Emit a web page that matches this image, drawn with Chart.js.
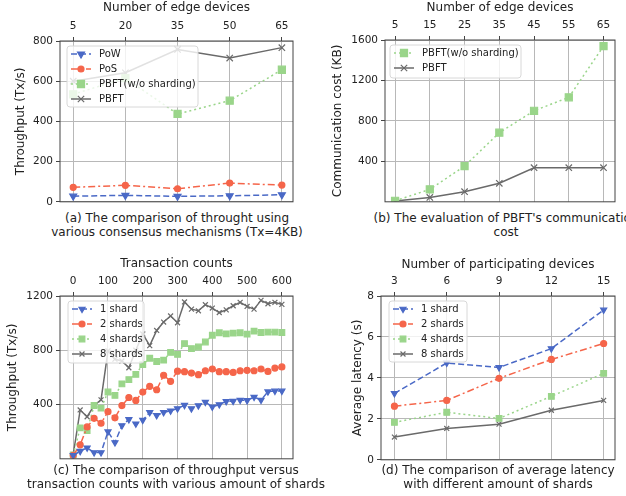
<!DOCTYPE html>
<html>
<head>
<meta charset="utf-8">
<script src="https://cdn.jsdelivr.net/npm/chart.js@4.4.1/dist/chart.umd.min.js"></script>
<style>
  html, body { margin: 0; padding: 0; background: #fff; overflow: hidden; }
  #page { position: relative; width: 626px; height: 496px; font-family: "DejaVu Sans", sans-serif; }
  .panel { position: absolute; }
  .caption { position: absolute; width: 420px; text-align: center; font-size: 12px; line-height: 14px; color: #222; white-space: nowrap; }
</style>
</head>
<body>
<div id="page">
  <div class="panel" style="left:0;top:0;width:300px;height:208px"><canvas id="chartA"></canvas></div>
  <div class="panel" style="left:320px;top:0;width:302px;height:208px"><canvas id="chartB"></canvas></div>
  <div class="panel" style="left:0;top:248px;width:300px;height:216px"><canvas id="chartC"></canvas></div>
  <div class="panel" style="left:320px;top:248px;width:302px;height:217px"><canvas id="chartD"></canvas></div>
  <div class="caption" style="left:-33px;top:211px">(a) The comparison of throught using<br>various consensus mechanisms (Tx=4KB)</div>
  <div class="caption" style="left:296px;top:211px">(b) The evaluation of PBFT's communication<br>cost</div>
  <div class="caption" style="left:-34px;top:463px">(c) The comparison of throughput versus<br>transaction counts with various amount of shards</div>
  <div class="caption" style="left:288px;top:463px">(d) The comparison of average latency<br>with different amount of shards</div>
</div>
<script>
// ---- data ----
// (a) throughput vs edge devices
const devicesA = [5, 20, 35, 50, 65];
const powA = [28, 32, 27, 30, 35];
const posA = [72, 82, 65, 93, 83];
const pbftNoShardA = [535, 615, 437, 503, 657];
const pbftA = [600, 642, 758, 715, 767];
const yTicksA = [0, 200, 400, 600, 800];

// (b) communication cost
const devicesB = [5, 15, 25, 35, 45, 55, 65];
const pbftNoShardB = [10, 123, 353, 683, 900, 1033, 1540];
const pbftB = [7, 43, 100, 183, 337, 337, 337];
const yTicksB = [400, 800, 1200, 1600];

// (c) throughput vs transaction counts
const txCounts = [0, 20, 40, 60, 80, 100, 120, 140, 160, 180, 200, 220, 240, 260, 280, 300,
  320, 340, 360, 380, 400, 420, 440, 460, 480, 500, 520, 540, 560, 580, 600];
const shard1C = [26, 56, 81, 46, 46, 200, 120, 245, 290, 258, 285, 342, 320, 342, 354, 370,
  395, 370, 392, 418, 383, 400, 423, 425, 433, 430, 455, 433, 495, 500, 500];
const shard2C = [26, 103, 235, 298, 262, 347, 302, 392, 452, 430, 492, 534, 509, 616, 571, 646,
  642, 632, 620, 649, 662, 642, 642, 637, 649, 652, 649, 662, 644, 669, 677];
const shard4C = [28, 228, 208, 393, 373, 492, 467, 552, 584, 622, 695, 741, 717, 727, 784, 770,
  849, 812, 824, 861, 911, 929, 921, 926, 929, 919, 941, 931, 934, 934, 931];
const shard8C = [30, 360, 310, 393, 435, 796, 734, 721, 671, 800, 920, 834, 946, 1008, 1053, 1003,
  1156, 1103, 1091, 1136, 1111, 1078, 1098, 1128, 1153, 1123, 1103, 1168, 1143, 1153, 1138];
const xTicksC = [0, 100, 200, 300, 400, 500, 600];
const yTicksC = [400, 800, 1200];

// (d) latency
const devicesD = [3, 6, 9, 12, 15];
const shard1D = [3.24, 4.73, 4.51, 5.43, 7.32];
const shard2D = [2.62, 2.9, 3.98, 4.9, 5.68];
const shard4D = [1.83, 2.32, 2.02, 3.1, 4.22];
const shard8D = [1.11, 1.53, 1.74, 2.42, 2.9];
const yTicksD = [0, 2, 4, 6, 8];

// ---- styles ----
const BLUE = "#4a69c6";
const RED = "#f5654a";
const GREEN = "#9ad58a";
const GRAY = "#6a6a6a";
const FONT = "'DejaVu Sans', sans-serif";

function pts(xs, ys) {
  return xs.map((x, i) => ({ x: x, y: ys[i] }));
}

function series(label, xs, ys, kind, r) {
  const s = {
    pow: { color: BLUE, dash: [6, 3], style: "triangle", rot: 180, radius: 4 },
    pos: { color: RED, dash: [7, 3, 2, 3], style: "circle", rot: 0, radius: 3 },
    green: { color: GREEN, dash: [2, 3], style: "rect", rot: 0, radius: 5 },
    gray: { color: GRAY, dash: [], style: "crossRot", rot: 0, radius: 4.5 },
  }[kind];
  return {
    label: label,
    data: pts(xs, ys),
    borderColor: s.color,
    backgroundColor: s.color,
    borderWidth: 1.5,
    borderDash: s.dash,
    pointStyle: s.style,
    pointRotation: s.rot,
    pointRadius: r || s.radius,
    pointBorderWidth: 1.2,
    pointHoverRadius: r || s.radius,
    tension: 0,
  };
}

// frame around plot area + matplotlib-like legend inside plot
const framePlugin = {
  id: "frame",
  afterDraw(chart, args, opts) {
    const ctx = chart.ctx;
    const a = chart.chartArea;
    ctx.save();
    ctx.strokeStyle = "#444";
    ctx.lineWidth = 1;
    ctx.strokeRect(a.left, a.top, a.right - a.left, a.bottom - a.top);

    const lg = opts.legend;
    if (lg) {
      const bx = a.left + lg.dx, by = a.top + lg.dy;
      ctx.beginPath();
      ctx.roundRect(bx, by, lg.w, lg.h, 3);
      ctx.fillStyle = "rgba(255,255,255,0.8)";
      ctx.fill();
      ctx.strokeStyle = "#d8d8d8";
      ctx.lineWidth = 1;
      ctx.stroke();
      chart.data.datasets.forEach((ds, i) => {
        const y = by + 8 + i * 15;
        ctx.save();
        ctx.strokeStyle = ds.borderColor;
        ctx.lineWidth = ds.borderWidth;
        ctx.setLineDash(ds.borderDash);
        ctx.beginPath();
        ctx.moveTo(bx + 4, y);
        ctx.lineTo(bx + 24, y);
        ctx.stroke();
        ctx.setLineDash([]);
        ctx.fillStyle = ds.backgroundColor;
        ctx.lineWidth = ds.pointBorderWidth;
        Chart.helpers.drawPoint(ctx, { pointStyle: ds.pointStyle, rotation: ds.pointRotation,
          radius: ds.pointRadius, borderWidth: ds.pointBorderWidth }, bx + 14, y);
        ctx.restore();
        ctx.fillStyle = "#222";
        ctx.font = "10px " + FONT;
        ctx.textBaseline = "middle";
        ctx.textAlign = "left";
        ctx.fillText(ds.label, bx + 32, y + 0.5);
      });
    }
    ctx.restore();
  },
};

function makeChart(id, cfg) {
  const ctx = document.getElementById(id).getContext("2d");
  return new Chart(ctx, {
    type: "line",
    data: { datasets: cfg.datasets },
    options: {
      responsive: true,
      maintainAspectRatio: false,
      animation: false,
      layout: { padding: { left: 0, top: 0, right: cfg.padRight, bottom: cfg.padBottom } },
      plugins: {
        legend: { display: false },
        tooltip: { enabled: false },
        frame: { legend: cfg.legend },
      },
      scales: {
        x: {
          type: "linear",
          position: "top",
          min: cfg.xMin,
          max: cfg.xMax,
          afterBuildTicks: (s) => { s.ticks = cfg.xTicks.map((v) => ({ value: v })); },
          afterFit: (s) => { s.height = cfg.topH; s.paddingLeft = 0; s.paddingRight = 0; },
          grid: { color: "#b8b8b8", lineWidth: 1, tickLength: 4, tickColor: "#444" },
          border: { display: false },
          ticks: { font: { size: 10.5, family: FONT }, color: "#222", padding: 4, maxRotation: 0,
            callback: (v) => String(v) },
          title: { display: true, text: cfg.xTitle, font: { size: 12, family: FONT }, color: "#222",
            padding: { top: cfg.xTitlePad, bottom: 0 } },
        },
        y: {
          type: "linear",
          min: cfg.yMin,
          max: cfg.yMax,
          afterBuildTicks: (s) => { s.ticks = cfg.yTicks.map((v) => ({ value: v })); },
          afterFit: (s) => { s.width = cfg.leftW; s.paddingTop = 0; s.paddingBottom = 0; },
          grid: { color: "#b8b8b8", lineWidth: 1, tickLength: 4, tickColor: "#444" },
          border: { display: false },
          ticks: { font: { size: 10.5, family: FONT }, color: "#222", padding: 3,
            callback: (v) => String(v) },
          title: { display: true, text: cfg.yTitle, font: { size: 12, family: FONT }, color: "#222",
            padding: { top: cfg.yTitlePad, bottom: 0 } },
        },
      },
    },
    plugins: [framePlugin],
  });
}

document.addEventListener("DOMContentLoaded", function () {
  // (a)
  makeChart("chartA", {
    datasets: [
      series("PoW", devicesA, powA, "pow"),
      series("PoS", devicesA, posA, "pos"),
      series("PBFT(w/o sharding)", devicesA, pbftNoShardA, "green"),
      series("PBFT", devicesA, pbftA, "gray"),
    ],
    xMin: 1.2, xMax: 68.2, xTicks: devicesA,
    yMin: 0, yMax: 800, yTicks: yTicksA,
    xTitle: "Number of edge devices", yTitle: "Throughput (Tx/s)",
    leftW: 60, topH: 41, padRight: 7, padBottom: 3,
    xTitlePad: 1, yTitlePad: 14,
    legend: { dx: 7, dy: 5, w: 131, h: 61 },
  });

  // (b)
  makeChart("chartB", {
    datasets: [
      series("PBFT(w/o sharding)", devicesB, pbftNoShardB, "green"),
      series("PBFT", devicesB, pbftB, "gray"),
    ],
    xMin: 2.1, xMax: 68.3, xTicks: devicesB,
    yMin: 0, yMax: 1600, yTicks: yTicksB,
    xTitle: "Number of edge devices", yTitle: "Communication cost (KB)",
    leftW: 65, topH: 40, padRight: 7, padBottom: 3,
    xTitlePad: 1, yTitlePad: 11,
    legend: { dx: 5, dy: 5, w: 131, h: 33 },
  });

  // (c)
  makeChart("chartC", {
    datasets: [
      series("1 shard", txCounts, shard1C, "pow", 3.5),
      series("2 shards", txCounts, shard2C, "pos", 3),
      series("4 shards", txCounts, shard4C, "green", 4),
      series("8 shards", txCounts, shard8C, "gray", 3.5),
    ],
    xMin: -38, xMax: 632, xTicks: xTicksC,
    yMin: 0, yMax: 1200, yTicks: yTicksC,
    xTitle: "Transaction counts", yTitle: "Throughput (Tx/s)",
    leftW: 60, topH: 48, padRight: 7, padBottom: 4,
    xTitlePad: 9, yTitlePad: 6,
    legend: { dx: 8, dy: 5, w: 76, h: 62 },
  });

  // (d)
  makeChart("chartD", {
    datasets: [
      series("1 shard", devicesD, shard1D, "pow", 3.5),
      series("2 shards", devicesD, shard2D, "pos", 3),
      series("4 shards", devicesD, shard4D, "green", 4),
      series("8 shards", devicesD, shard8D, "gray", 3.5),
    ],
    xMin: 2.23, xMax: 15.65, xTicks: devicesD,
    yMin: 0, yMax: 8, yTicks: yTicksD,
    xTitle: "Number of participating devices", yTitle: "Average latency (s)",
    leftW: 61, topH: 48, padRight: 7, padBottom: 4,
    xTitlePad: 10, yTitlePad: 31,
    legend: { dx: 8, dy: 5, w: 78, h: 61 },
  });
});
</script>
</body>
</html>
